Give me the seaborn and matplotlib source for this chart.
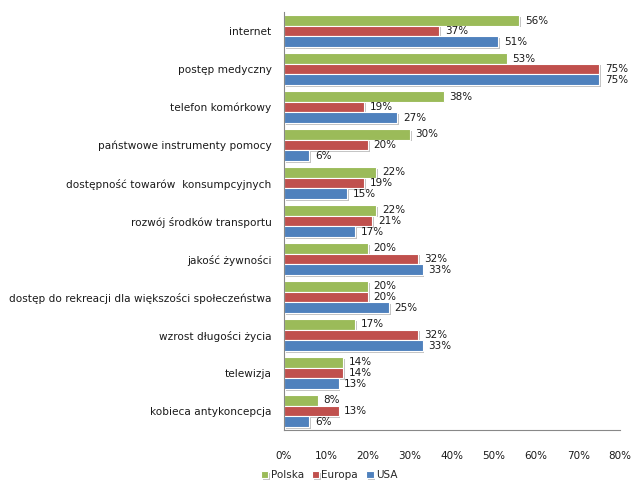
import pandas as pd
import seaborn as sns

import matplotlib
matplotlib.use("Agg")  # headless mode (no GUI)

import matplotlib.pyplot as plt
import matplotlib.patheffects as pe

# data (percent)
categories = [
    "internet",
    "postęp medyczny",
    "telefon komórkowy",
    "państwowe instrumenty pomocy",
    "dostępność towarów  konsumpcyjnych",
    "rozwój środków transportu",
    "jakość żywności",
    "dostęp do rekreacji dla większości społeczeństwa",
    "wzrost długości życia",
    "telewizja",
    "kobieca antykoncepcja",
]
series = ["Polska", "Europa", "USA"]
polska = [56, 53, 38, 30, 22, 22, 20, 20, 17, 14, 8]
europa = [37, 75, 19, 20, 19, 21, 32, 20, 32, 14, 13]
usa = [51, 75, 27, 6, 15, 17, 33, 25, 33, 13, 6]
colors = ["#9BBB59", "#C0504D", "#4F81BD"]

df = pd.DataFrame({
    "kategoria": categories * 3,
    "seria": [s for s in series for _ in categories],
    "wartosc": polska + europa + usa,
})

sns.set_style("white")
plt.rcParams["font.family"] = ["DejaVu Sans"]

fig = plt.figure(figsize=(6.33, 4.86), dpi=100)
ax = fig.add_axes([0.4487, 0.115, 0.531, 0.86])

sns.barplot(
    data=df, y="kategoria", x="wartosc", hue="seria",
    order=categories, hue_order=series, palette=colors,
    orient="h", width=0.84, edgecolor="white", linewidth=0.8,
    saturation=1, ax=ax,
)

shadow = [pe.SimplePatchShadow(offset=(1.2, -1.2), shadow_rgbFace="#9a9a9a", alpha=0.6), pe.Normal()]
for patch in ax.patches:
    patch.set_path_effects(shadow)

for cont in ax.containers:
    ax.bar_label(cont, labels=[f"{v:.0f}%" for v in cont.datavalues],
                 padding=4, fontsize=7.5, color="#1a1a1a")

ax.set_xlim(0, 80)
ax.set_xticks(range(0, 81, 10))
ax.set_xticklabels([f"{t}%" for t in range(0, 81, 10)], fontsize=7.5, color="#1a1a1a")
ax.tick_params(axis="x", length=0, pad=15)
ax.tick_params(axis="y", length=0, pad=9, labelsize=7.6, labelcolor="#1a1a1a")
ax.set_xlabel("")
ax.set_ylabel("")

for side in ["top", "right"]:
    ax.spines[side].set_visible(False)
ax.spines["left"].set_color("#888888")
ax.spines["bottom"].set_color("#888888")

handles, labels = ax.get_legend_handles_labels()
ax.get_legend().remove()
fig.legend(handles, labels, loc="center", bbox_to_anchor=(0.52, 0.022), ncol=3, frameon=False,
           fontsize=7.5, handlelength=0.7, handleheight=0.7, handletextpad=0.2,
           columnspacing=0.8)

plt.savefig("out.png", dpi=100)
